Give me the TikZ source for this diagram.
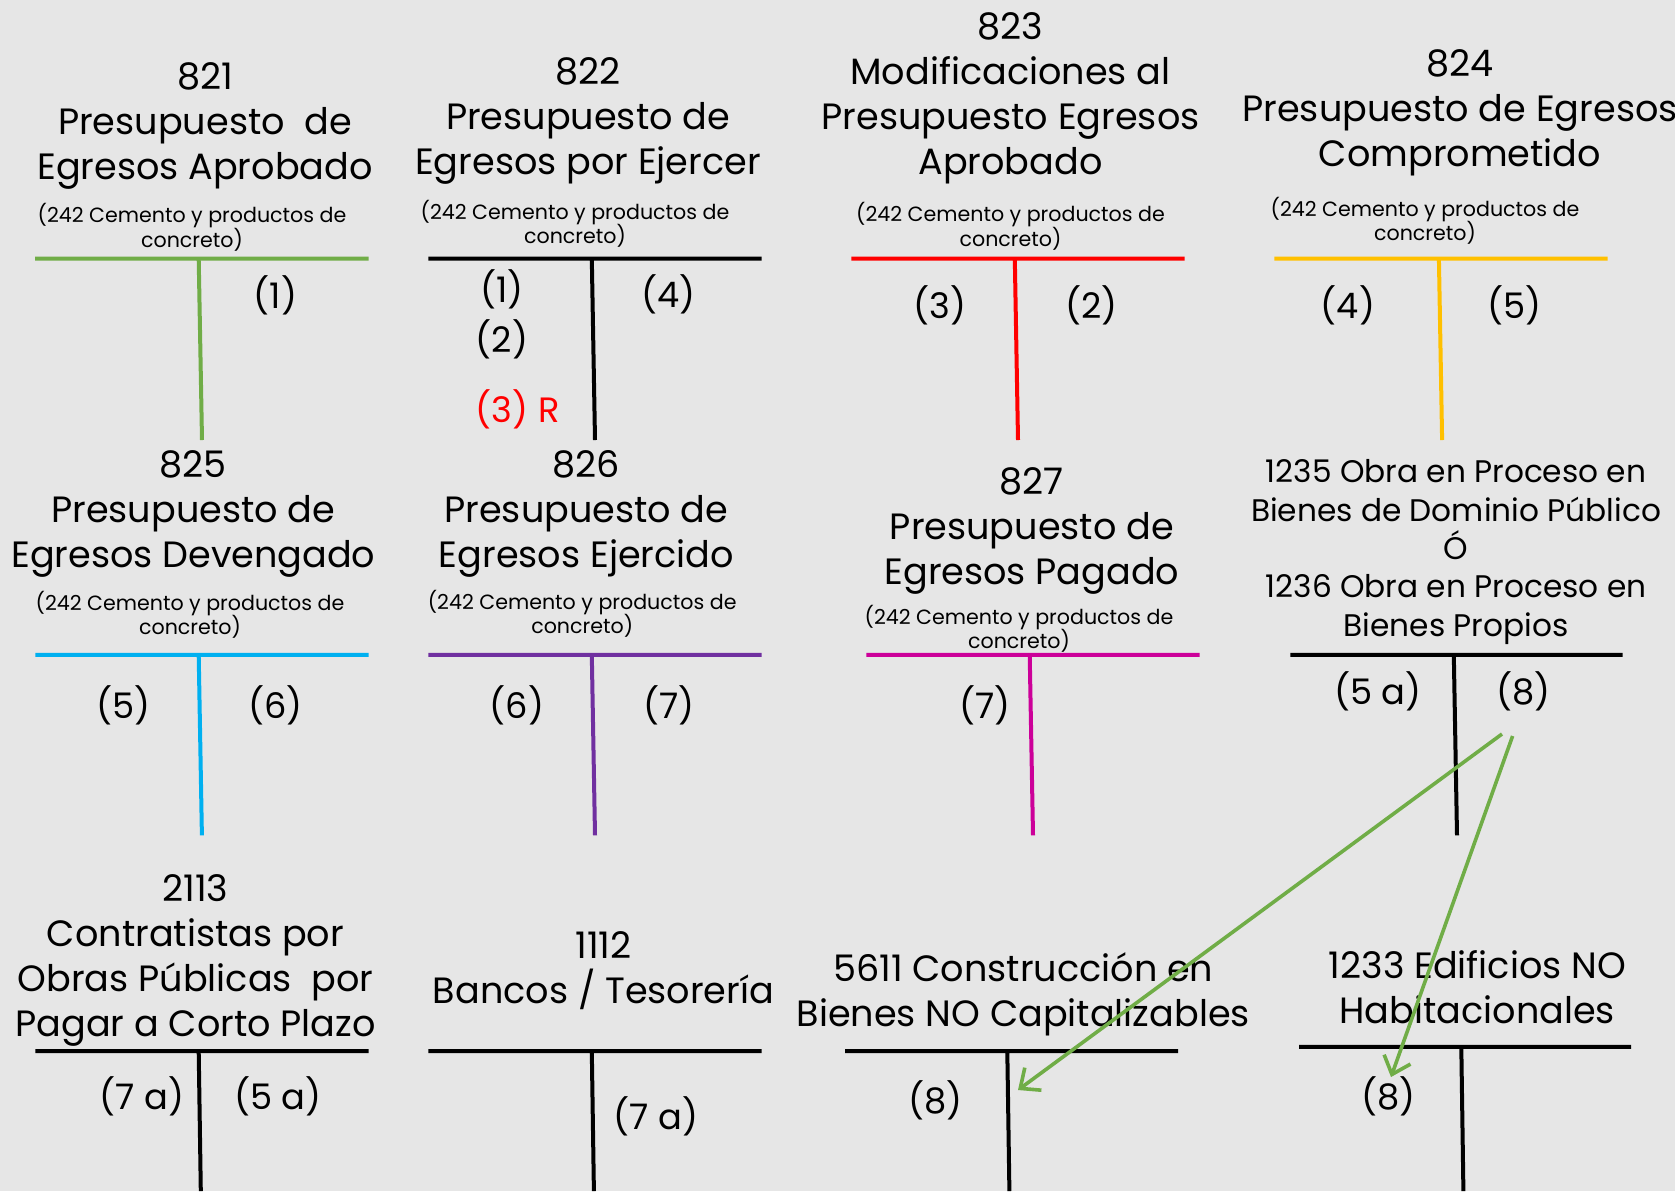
\documentclass[tikz,border=0pt]{standalone}
\usepackage{fontspec}
\setmainfont{Poppins}
\usetikzlibrary{arrows.meta}
\definecolor{fondo}{HTML}{E6E6E6}
\definecolor{verde}{HTML}{70AD47}
\definecolor{rojo}{HTML}{FF0000}
\definecolor{amarillo}{HTML}{FFC000}
\definecolor{celeste}{HTML}{00B0F0}
\definecolor{morado}{HTML}{7030A0}
\definecolor{rosa}{HTML}{CC0099}

\begin{document}
\begin{tikzpicture}[x=0.5pt,y=-0.5pt,
   titulo/.style={align=center,anchor=base,inner sep=0pt,font=\fontsize{18.3}{22.5}\selectfont},
   titulob/.style={titulo,font=\fontsize{15.6}{19.2}\selectfont},
   partida/.style={align=center,anchor=base,inner sep=0pt,font=\fontsize{10.3}{12.3}\selectfont},
   asiento/.style={anchor=base,inner sep=0pt,font=\fontsize{17.6}{22.5}\selectfont},
   cuenta/.style={line width=2pt},
   flecha/.style={verde,line width=1.8pt,-{Straight Barb[length=8pt,width=14pt]}}]

\fill[fondo] (0,0) rectangle (1675,1191);
\useasboundingbox (0,0) rectangle (1675,1191);

\node[titulo] (t821) at (205,179) {821\\Presupuesto~ de\\Egresos Aprobado};
\node[partida] (p821) at (192,247.3) {(242 Cemento y productos de\\concreto)};
\draw[cuenta,verde] (35,258.5) -- (368.5,258.5) (198.7,258.5) -- (202,440);
\node[asiento] (e821a) at (275.6,308) {(1)};

\node[titulo] (t822) at (588,174) {822\\Presupuesto de\\Egresos por Ejercer};
\node[partida] (p822) at (575,243.6) {(242 Cemento y productos de\\concreto)};
\draw[cuenta] (428.3,258.5) -- (761.6,258.5) (591.8,258.5) -- (595,440);
\node[asiento] (e822a) at (502,302.5) {(1)};
\node[asiento] (e822b) at (502,352.7) {(2)};
\node[asiento,rojo] (e822c) at (518,422) {(3)\hspace{0.3em}R};
\node[asiento] (e822d) at (668.7,307.8) {(4)};

\node[titulo] (t823) at (1010.5,174.5) {823\\Modificaciones al\\Presupuesto Egresos\\Aprobado};
\node[partida] (p823) at (1010.5,246.3) {(242 Cemento y productos de\\concreto)};
\draw[cuenta,rojo] (851.4,258.5) -- (1184.6,258.5) (1014.8,258.5) -- (1018,440);
\node[asiento] (e823a) at (940,318.5) {(3)};
\node[asiento] (e823b) at (1091.7,318.5) {(2)};

\node[titulo] (t824) at (1460,166.4) {824\\Presupuesto de Egresos\\Comprometido};
\node[partida] (p824) at (1425,240.6) {(242 Cemento y productos de\\concreto)};
\draw[cuenta,amarillo] (1274.4,258.5) -- (1607.6,258.5) (1438.9,258.5) -- (1442.1,440);
\node[asiento] (e824a) at (1348,318.5) {(4)};
\node[asiento] (e824b) at (1514.7,318.5) {(5)};

\node[titulo] (t825) at (193.3,567) {825\\Presupuesto de\\Egresos Devengado};
\node[partida] (p825) at (190,634.6) {(242 Cemento y productos de\\concreto)};
\draw[cuenta,celeste] (35.3,654.8) -- (368.5,654.8) (198.7,654.8) -- (201.9,835.3);
\node[asiento] (e825a) at (123.9,718) {(5)};
\node[asiento] (e825b) at (275.6,718) {(6)};

\node[titulo] (t826) at (586.4,567) {826\\Presupuesto de\\Egresos Ejercido};
\node[partida] (p826) at (582.2,633.6) {(242 Cemento y productos de\\concreto)};
\draw[cuenta,morado] (428.3,654.8) -- (761.6,654.8) (591.8,654.8) -- (595,835.3);
\node[asiento] (e826a) at (517,718) {(6)};
\node[asiento] (e826b) at (668.7,718) {(7)};

\node[titulo] (t827) at (1031.9,584.2) {827\\Presupuesto de\\Egresos Pagado};
\node[partida] (p827) at (1019,648.6) {(242 Cemento y productos de\\concreto)};
\draw[cuenta,rosa] (866.3,654.8) -- (1199.6,654.8) (1029.7,654.8) -- (1033,835.3);
\node[asiento] (e827a) at (984.9,718) {(7)};

\node[titulob] (t1235) at (1456,636.3) {1235 Obra en Proceso en\\Bienes de Dominio Público\\Ó\\1236 Obra en Proceso en\\Bienes Propios};
\draw[cuenta] (1290.4,654.8) -- (1622.6,654.8) (1453.8,654.8) -- (1457,835.3);
\node[asiento] (e1235a) at (1378,704) {(5 a)};
\node[asiento] (e1235b) at (1523.3,704) {(8)};

\node[titulo] (t2113) at (195.5,1036) {2113\\Contratistas por\\Obras Públicas~ por\\Pagar a Corto Plazo};
\draw[cuenta] (35.3,1051.1) -- (368.5,1051.1) (198.7,1051.1) -- (200.8,1191);
\node[asiento] (e2113a) at (142,1109) {(7 a)};
\node[asiento] (e2113b) at (277.7,1109) {(5 a)};

\node[titulo] (t1112) at (603.5,1003.9) {1112\\Bancos / Tesorería};
\draw[cuenta] (428.3,1051.1) -- (761.6,1051.1) (591.8,1051.1) -- (593.9,1191);
\node[asiento] (e1112a) at (655.9,1129.3) {(7 a)};

\node[titulo] (t5611) at (1023.3,1026) {5611 Construcción en\\Bienes NO Capitalizables};
\draw[cuenta] (845,1051.1) -- (1178.2,1051.1) (1007.3,1051.1) -- (1009.4,1191);
\node[asiento] (e5611a) at (935.7,1113) {(8)};

\node[titulo] (t1233) at (1477.3,1023) {1233 Edificios NO\\Habitacionales};
\draw[cuenta] (1299,1046.8) -- (1631.1,1046.8) (1461.3,1046.8) -- (1463.4,1191);
\node[asiento] (e1233a) at (1388.7,1109) {(8)};

\coordinate (o1) at (1502,734);
\coordinate (d1) at (1018,1090);
\coordinate (o2) at (1512.6,736);
\coordinate (d2) at (1391,1077);
\draw[flecha] (o1) -- (d1);
\draw[flecha] (o2) -- (d2);

\end{tikzpicture}
\end{document}
